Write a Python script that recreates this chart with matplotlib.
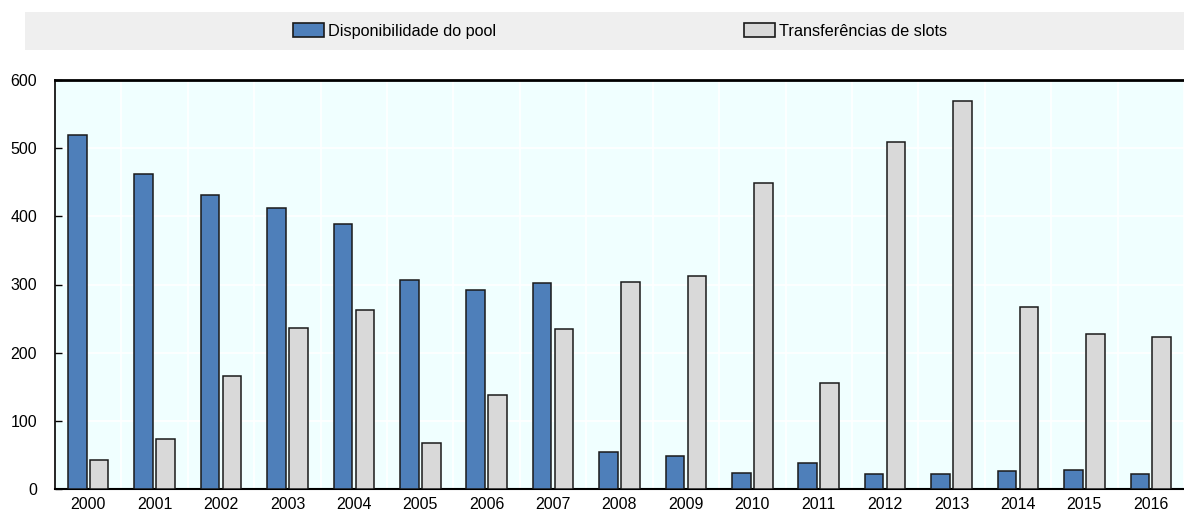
import numpy as np
import matplotlib.pyplot as plt
from matplotlib.patches import Patch, Rectangle

plt.rcParams['font.family'] = ['Liberation Sans', 'DejaVu Sans']

years = ['2000', '2001', '2002', '2003', '2004', '2005', '2006', '2007', '2008',
         '2009', '2010', '2011', '2012', '2013', '2014', '2015', '2016']
pool = [520, 462, 432, 412, 389, 307, 292, 302, 54, 48, 23, 38, 22, 22, 26, 28, 22]
slots = [42, 74, 166, 236, 262, 67, 138, 235, 304, 313, 449, 156, 509, 569, 267, 228, 223]
labels = ['Disponibilidade do pool', 'Transferências de slots']

blue = '#4E7FBA'
grey = '#D9D9D9'

fig = plt.figure(figsize=(11.84, 5.16), dpi=100)
ax = fig.add_axes([55 / 1184, 1 - 489 / 516, 1 - 55 / 1184, 409 / 516])
ax.set_facecolor('#F0FFFF')

x = np.arange(len(years))
w = 0.28
ax.bar(x - 0.165, pool, w, color=blue, edgecolor='#1a1a1a', linewidth=1.1, zorder=3)
ax.bar(x + 0.165, slots, w, color=grey, edgecolor='#1a1a1a', linewidth=1.1, zorder=3)

ax.set_xlim(-0.5, len(years) - 0.5)
ax.set_ylim(0, 600)
ax.set_yticks(range(0, 601, 100))
ax.set_xticks(x)
ax.set_xticklabels(years)
ax.set_xticks(np.arange(-0.5, len(years), 1), minor=True)
ax.grid(True, which='minor', axis='x', color='white', linewidth=1.2, zorder=0)
ax.grid(True, which='major', axis='y', color='white', linewidth=1.2, zorder=0)
ax.tick_params(axis='x', which='both', length=0, labelsize=11.5, pad=6)
ax.tick_params(axis='y', direction='in', length=5, width=1, labelsize=11.5, pad=13)

ax.spines['right'].set_visible(False)
ax.spines['top'].set_linewidth(2)
ax.spines['left'].set_linewidth(1.2)
ax.spines['bottom'].set_linewidth(1.5)

# legend band
fig.patches.append(Rectangle((25 / 1184, 1 - 50 / 516), 1 - 25 / 1184, 38 / 516,
                             transform=fig.transFigure, facecolor='#EFEFEF',
                             edgecolor='none', zorder=0))
handles = [Patch(facecolor=blue, edgecolor='#1a1a1a', linewidth=1.2),
           Patch(facecolor=grey, edgecolor='#1a1a1a', linewidth=1.2)]
fig.legend(handles, labels, loc='center', bbox_to_anchor=(620 / 1184, 1 - 31 / 516),
           ncol=2, frameon=False, fontsize=11.7, handlelength=1.95, handleheight=0.9,
           handletextpad=0.25, columnspacing=15.2)

fig.savefig('out.png', dpi=100)
